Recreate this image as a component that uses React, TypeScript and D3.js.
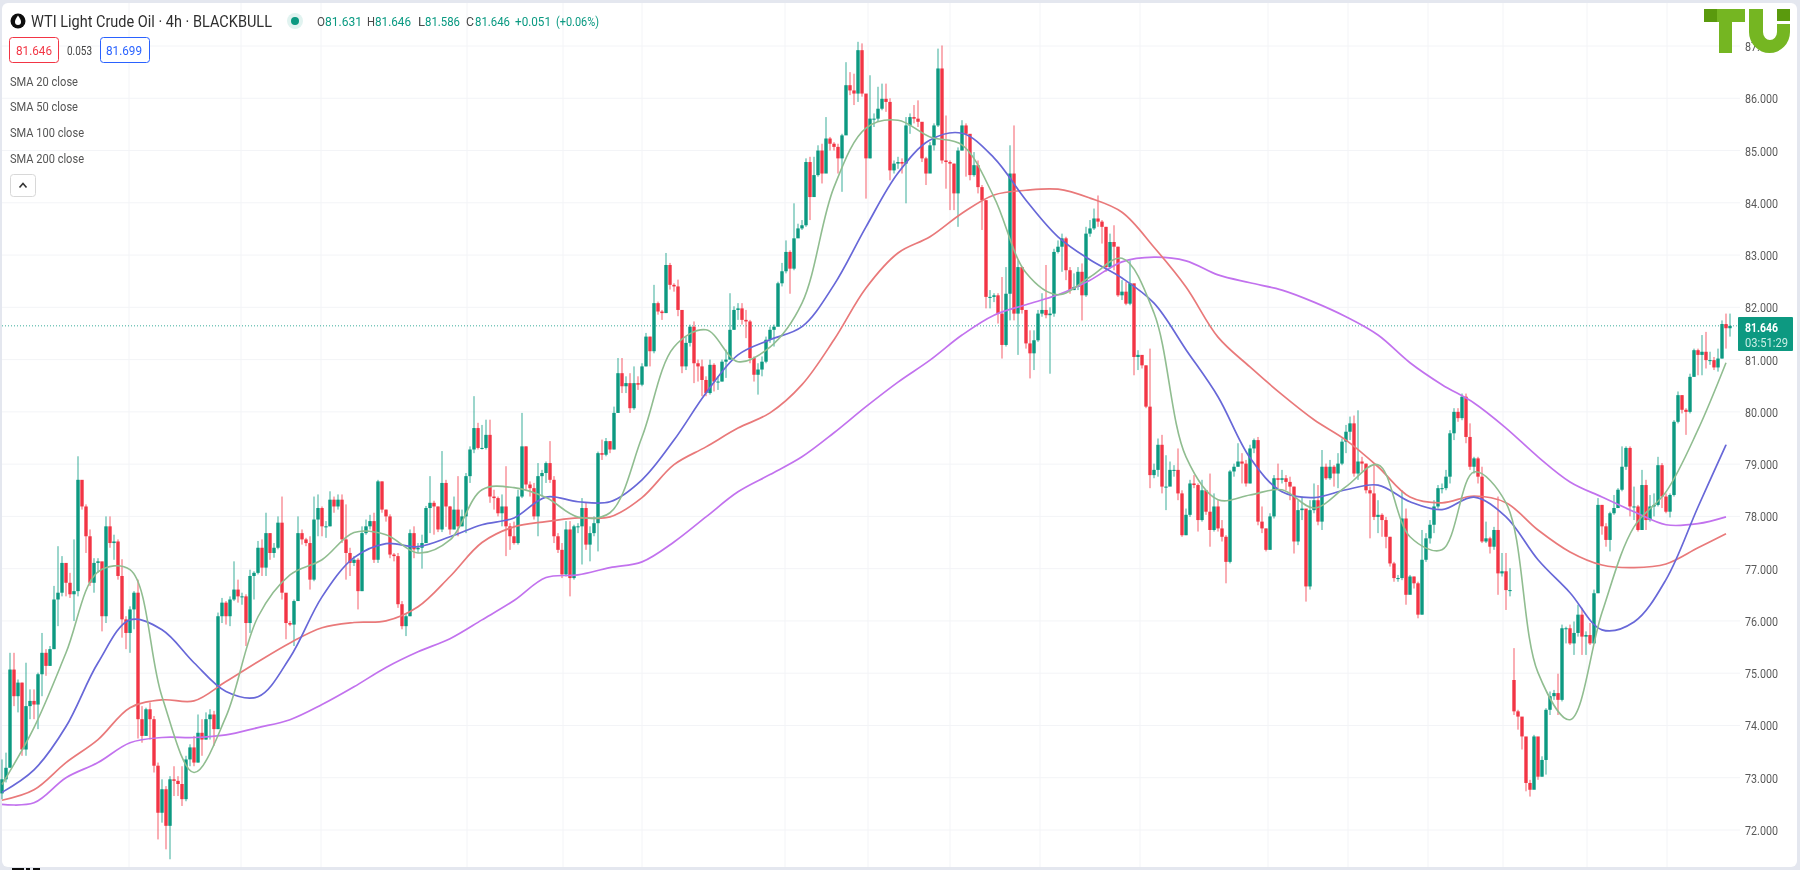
import React from 'react';
import * as d3 from 'd3';

const closes = [
  72.97,73.19,75.07,74.56,74.82,73.54,74.37,74.47,74.40,74.98,
  75.39,75.14,75.46,76.41,76.54,77.11,76.73,76.51,76.57,78.70,
  78.19,77.62,76.73,77.11,77.14,76.09,77.81,77.49,77.52,76.86,
  76.03,75.77,76.22,76.54,74.12,73.80,74.31,74.12,73.23,72.33,
  72.78,72.08,72.97,72.94,72.88,72.59,73.35,73.58,73.29,73.86,
  73.73,74.12,74.21,73.93,76.09,76.35,76.09,76.41,76.60,76.47,
  76.47,75.96,76.86,76.92,77.40,77.02,77.68,77.30,77.40,77.88,
  76.54,75.96,75.93,76.38,77.68,77.56,77.49,76.79,77.94,78.16,
  77.81,77.81,78.32,78.19,78.32,77.56,77.30,77.11,77.17,76.57,
  77.68,77.81,77.91,77.17,78.67,78.13,78.00,77.27,77.24,76.32,
  75.90,76.09,77.68,77.37,77.40,77.49,78.16,78.26,78.19,77.75,
  78.64,78.19,77.75,78.13,77.81,78.00,78.77,79.28,79.69,79.31,
  79.31,79.56,78.38,78.35,78.06,78.19,77.81,77.62,77.49,78.38,
  79.34,78.61,78.54,78.00,78.77,78.83,79.02,78.70,77.62,77.36,
  76.89,77.75,76.82,77.81,77.81,78.16,77.46,77.68,77.87,79.21,
  79.18,79.44,79.28,79.98,80.74,80.49,80.55,80.07,80.55,80.52,
  80.87,81.44,81.16,82.08,81.92,81.89,82.81,82.43,82.40,81.95,
  80.87,81.32,81.63,80.93,80.87,80.61,80.36,80.90,80.58,80.58,
  80.96,81.00,81.57,81.95,81.98,81.76,81.73,81.03,80.71,80.81,
  80.96,81.38,81.57,81.63,82.46,82.69,83.06,82.74,83.32,83.51,
  83.57,84.78,84.11,84.53,85.00,84.56,85.23,85.13,85.07,84.85,
  85.29,86.25,86.15,86.09,86.92,86.09,84.85,85.61,85.61,85.80,
  85.99,85.93,84.62,84.75,84.78,84.75,85.48,85.64,85.61,85.55,
  84.85,84.56,85.10,85.48,86.57,84.81,84.78,84.75,84.18,85.00,
  85.48,85.32,84.53,84.72,84.30,84.05,82.20,82.20,82.23,81.88,
  81.28,82.26,84.56,81.88,82.77,81.95,81.31,81.12,81.37,81.88,
  81.95,81.85,81.88,83.06,83.16,83.32,82.71,82.33,82.39,82.68,
  82.23,83.41,83.51,83.70,83.64,83.54,82.77,83.25,83.16,82.23,
  82.30,82.07,82.46,81.05,81.09,80.89,80.10,78.79,78.89,79.37,
  78.57,78.57,78.89,78.89,78.44,77.64,78.03,78.63,78.60,77.93,
  78.50,78.09,77.74,78.19,77.77,77.61,77.13,78.86,78.95,79.05,
  79.01,78.63,79.30,79.46,77.90,77.77,77.36,78.00,78.73,78.70,
  78.73,78.66,78.57,77.52,78.12,78.15,76.66,78.12,78.31,77.90,
  78.95,78.73,78.95,78.82,79.01,79.43,79.62,79.78,78.82,79.05,
  79.01,78.50,78.44,77.99,78.03,77.93,77.61,77.10,76.82,76.82,
  77.96,76.50,76.85,76.72,76.12,77.17,77.58,77.84,78.19,78.54,
  78.54,78.76,79.59,80.00,79.88,80.29,79.52,78.95,79.11,78.76,
  77.52,77.58,77.42,77.74,76.91,76.95,76.59,76.59,74.27,74.17,
  73.79,72.90,72.77,73.79,73.02,73.34,74.30,74.56,74.62,74.49,
  75.86,75.86,75.57,75.77,76.12,75.70,75.73,75.57,76.53,78.22,
  77.81,77.55,78.06,78.16,78.51,78.95,79.31,78.19,78.19,77.74,
  78.60,77.93,78.19,78.22,78.98,78.38,78.09,78.41,79.81,80.32,
  80.04,80.00,80.67,81.18,81.09,81.15,80.99,80.99,80.85,81.02,
  81.68,81.60,81.646,
];

const highs = [
  73.35,73.48,75.39,75.39,74.88,74.82,75.20,74.69,74.69,75.01,
  75.77,75.46,75.52,76.67,77.43,77.24,77.05,76.92,77.56,79.15,
  78.42,78.23,77.75,77.20,77.20,77.11,78.00,78.00,77.65,77.56,
  77.18,76.09,76.28,76.57,76.79,74.37,74.34,74.44,74.18,73.29,
  72.97,72.84,73.03,73.22,73.03,73.22,73.42,73.64,73.80,74.21,
  74.12,74.25,74.31,74.28,76.16,76.44,76.38,76.47,77.14,76.79,
  76.54,76.51,76.98,76.95,77.53,77.56,78.07,77.68,77.49,78.00,
  78.38,76.51,76.00,76.41,78.00,77.75,77.59,77.62,78.38,78.42,
  78.19,77.91,78.48,78.38,78.42,78.42,78.23,77.40,77.24,77.20,
  77.81,77.94,78.03,78.07,78.70,78.67,78.13,78.04,77.30,77.30,
  76.38,76.13,77.75,77.81,77.49,77.65,78.20,78.77,78.30,78.19,
  79.25,78.70,78.20,78.38,78.77,78.13,78.83,79.34,80.30,79.79,
  79.75,79.85,79.85,78.51,78.38,78.42,78.96,77.87,77.90,78.51,
  79.98,79.34,78.67,78.64,79.02,78.89,79.05,79.44,78.77,77.68,
  77.49,77.91,77.91,77.84,77.87,78.35,78.26,77.81,78.00,79.24,
  79.47,79.50,79.44,80.10,81.03,81.03,80.68,80.74,80.87,80.68,
  80.93,81.51,81.44,82.43,82.11,81.95,83.04,82.85,82.46,82.53,
  81.89,81.44,81.67,81.73,81.00,81.00,80.68,81.00,80.93,80.68,
  81.00,81.19,82.27,82.02,82.08,82.08,81.95,81.76,81.06,80.93,
  81.06,81.44,81.63,81.67,82.49,82.85,83.28,83.09,83.99,83.60,
  83.67,84.85,84.88,84.88,85.10,85.13,85.64,85.26,85.16,85.13,
  85.32,86.69,86.50,86.47,87.08,87.05,85.58,86.44,85.71,86.22,
  86.28,86.28,86.00,84.81,84.88,84.85,85.64,85.71,85.87,85.96,
  85.52,84.88,85.16,85.52,86.95,87.01,85.67,84.81,84.75,85.06,
  85.58,85.52,85.00,84.97,84.81,84.34,84.05,82.33,82.27,82.27,
  82.58,82.77,85.10,85.48,82.90,82.39,81.95,81.56,81.56,81.95,
  82.27,82.81,82.00,83.12,83.28,83.41,83.35,82.77,82.65,82.77,
  82.84,83.54,83.67,83.89,84.14,83.67,83.54,83.41,83.57,83.16,
  82.52,82.49,82.90,82.01,81.18,81.05,80.89,81.21,79.01,79.49,
  79.56,79.17,79.05,78.98,79.30,78.50,78.15,78.70,78.79,78.63,
  78.70,78.50,78.82,78.44,78.31,77.93,77.64,78.89,79.01,79.40,
  79.21,79.08,79.37,79.49,79.52,78.19,77.77,78.06,78.79,79.01,
  78.89,78.79,78.76,78.57,78.31,78.38,77.93,78.31,78.63,78.60,
  79.27,79.01,79.08,78.98,79.21,79.49,79.75,79.91,79.93,80.03,
  79.14,79.01,78.57,78.98,78.31,78.06,77.99,77.61,77.13,76.88,
  78.50,78.15,76.88,76.85,76.75,77.74,77.68,77.93,78.31,78.60,
  78.63,78.89,79.65,80.07,80.07,80.35,80.35,79.78,79.14,79.14,
  78.95,77.90,77.61,77.80,78.38,77.30,77.30,77.01,75.48,74.30,
  74.05,73.54,72.96,73.82,73.44,73.41,74.33,74.65,74.68,74.99,
  75.93,75.89,75.93,75.99,76.31,76.25,75.80,75.96,76.60,78.35,
  78.22,77.87,78.09,78.41,78.54,79.34,79.34,79.34,78.57,78.22,
  78.89,78.70,78.41,78.44,79.14,79.02,78.44,78.44,79.84,80.39,
  80.32,80.07,80.73,81.21,81.21,81.47,81.53,81.15,81.05,81.21,
  81.75,81.88,81.88,
];

const lows = [
  72.59,72.91,73.48,74.37,74.25,73.42,73.42,74.12,74.12,73.93,
  74.56,74.95,75.14,75.46,75.90,76.47,76.47,76.44,76.00,76.47,
  78.13,77.30,76.67,76.54,76.92,75.80,75.96,77.40,77.17,76.79,
  75.68,75.46,75.39,75.84,73.75,73.67,73.83,73.73,73.10,71.82,
  72.14,71.63,71.44,72.65,72.65,72.46,72.55,73.22,73.22,73.29,
  73.42,73.73,73.73,73.61,73.93,75.96,75.93,75.90,76.38,76.35,
  76.31,75.52,75.77,76.41,76.89,76.86,76.86,77.17,77.21,77.37,
  76.41,75.65,75.90,75.52,76.41,77.46,77.43,76.60,76.76,77.62,
  77.62,77.59,77.81,78.07,78.13,77.49,76.79,76.86,77.05,76.22,
  76.57,77.65,77.75,77.11,77.11,78.07,77.90,77.20,77.14,76.25,
  75.84,75.71,76.09,77.20,77.30,77.00,77.49,77.68,77.65,77.70,
  77.70,77.80,77.65,77.75,77.62,77.81,77.68,78.64,79.21,79.28,
  79.28,79.28,78.26,78.13,78.00,77.81,77.24,77.36,77.46,77.46,
  78.35,78.51,78.38,77.94,77.62,78.38,78.64,78.64,77.49,77.30,
  76.82,76.85,76.47,76.79,77.68,77.08,77.36,77.14,77.62,77.33,
  79.08,79.15,79.21,79.28,79.98,80.36,80.36,79.98,80.04,80.42,
  80.49,80.87,80.87,81.12,81.86,81.76,81.89,82.34,82.30,81.83,
  80.74,80.80,81.25,80.55,80.58,80.30,80.30,80.33,80.39,80.42,
  80.58,80.65,81.00,81.57,81.76,81.67,81.41,80.93,80.58,80.33,
  80.68,80.93,81.32,81.25,81.63,82.40,82.65,82.26,82.71,83.35,
  83.48,83.54,83.67,84.11,84.50,84.37,84.75,85.00,85.00,84.56,
  84.21,85.32,86.06,85.87,85.93,86.03,84.08,84.85,85.45,85.55,
  85.77,85.74,84.43,84.56,84.65,84.56,83.99,85.32,85.52,85.45,
  84.78,84.34,84.62,85.00,85.45,84.75,84.27,83.86,83.86,83.54,
  85.00,84.50,84.43,84.50,84.18,83.48,81.98,81.98,82.10,81.69,
  81.02,81.25,81.75,81.75,81.09,81.88,81.21,80.64,80.80,81.34,
  81.82,81.79,80.73,81.82,83.03,82.68,82.52,82.26,82.33,82.33,
  81.75,82.20,83.35,83.48,83.54,83.22,82.68,82.74,82.71,82.20,
  82.14,82.04,82.04,80.70,80.80,80.83,80.07,78.54,78.73,78.76,
  78.44,78.12,78.70,78.76,78.31,77.61,77.64,77.99,78.54,77.71,
  77.90,78.03,77.42,77.71,77.71,77.52,76.72,77.10,78.76,78.95,
  78.63,78.57,78.63,79.21,77.83,77.68,77.33,77.39,77.96,78.54,
  78.63,78.50,78.31,77.29,77.45,77.93,76.37,76.60,78.06,77.83,
  77.74,78.70,78.70,78.57,78.54,78.98,79.21,79.46,78.76,78.70,
  78.86,78.44,77.58,77.93,77.68,77.61,77.39,77.04,76.75,76.75,
  76.78,76.31,76.53,76.62,76.05,76.12,77.13,77.48,77.68,78.15,
  78.44,78.50,78.63,79.46,79.81,79.84,79.40,78.89,78.82,78.63,
  77.49,77.49,77.29,77.36,76.50,76.85,76.21,76.47,74.20,73.92,
  73.54,72.74,72.64,72.80,72.96,73.02,73.06,74.20,74.49,74.20,
  74.46,75.57,75.54,75.35,75.70,75.35,75.35,75.54,75.57,76.53,
  77.65,77.42,77.33,78.03,78.16,78.48,78.89,78.00,77.93,77.71,
  77.74,77.74,77.90,78.00,78.19,78.16,78.06,77.98,78.38,79.78,
  79.97,79.56,79.97,80.67,80.70,80.70,80.83,80.90,80.80,80.77,
  81.02,81.21,81.44,
];

// bars that open away from the previous close (weekend gaps)
const gapOpens: Record<number, number> = { 0: 72.7, 378: 74.87 };

// moving averages, one reading every 8 bars plus the last bar
const sma20 = [
  72.87,73.96,75.39,76.94,76.98,74.55,73.10,74.17,76.08,76.88,77.17,77.69,77.65,77.30,77.55,
  78.51,78.55,78.36,77.99,78.07,79.52,81.24,81.57,80.96,81.24,82.08,84.30,85.43,85.58,85.26,
  85.11,84.11,82.66,82.24,82.58,82.94,81.89,79.14,78.32,78.41,78.51,78.16,78.57,78.99,77.61,
  77.36,78.85,78.26,75.01,74.11,76.16,77.80,78.47,79.66,80.94,
];
const sma50 = [
  72.72,73.15,73.98,75.20,76.02,75.83,75.20,74.65,74.55,75.30,76.46,77.21,77.48,77.42,77.61,
  77.84,77.97,78.37,78.28,78.28,78.70,79.46,80.36,81.09,81.38,81.63,82.43,83.54,84.57,85.20,
  85.33,84.86,84.05,83.35,82.91,82.56,82.08,81.19,80.29,79.12,78.47,78.36,78.51,78.60,78.28,
  78.13,78.37,77.99,77.17,76.54,75.83,75.98,76.79,78.18,79.37,
];
const sma100 = [
  72.57,72.77,73.29,73.73,74.34,74.49,74.47,74.84,75.22,75.58,75.87,75.97,76.00,76.27,76.85,
  77.50,77.80,77.90,77.97,77.99,78.36,78.99,79.33,79.69,79.98,80.52,81.38,82.37,83.04,83.35,
  83.80,84.15,84.24,84.26,84.09,83.82,83.15,82.39,81.43,80.86,80.33,79.85,79.46,78.95,78.37,
  78.26,78.39,78.26,77.74,77.32,77.07,77.02,77.09,77.40,77.67,
];
const sma200 = [
  72.49,72.52,73.00,73.29,73.67,73.77,73.77,73.82,73.96,74.11,74.40,74.74,75.11,75.41,75.66,
  76.02,76.39,76.83,76.88,77.02,77.13,77.51,77.99,78.47,78.80,79.14,79.60,80.10,80.57,80.99,
  81.47,81.85,82.05,82.24,82.52,82.87,82.96,82.89,82.62,82.47,82.33,82.10,81.82,81.47,80.94,
  80.52,80.17,79.69,79.14,78.66,78.37,78.09,77.84,77.86,77.99,
];

const priceTicks = [87, 86, 85, 84, 83, 82, 81, 80, 79, 78, 77, 76, 75, 74, 73, 72];
const timeGrid = [129, 241, 321, 467, 563, 642, 785, 868, 950, 1040, 1140, 1268, 1348, 1428, 1503, 1587, 1667];
const smaLabels = ['SMA 20 close', 'SMA 50 close', 'SMA 100 close', 'SMA 200 close'];

const UP = '#089981';
const DOWN = '#f23645';
const LAST = 81.646;

const x = d3.scaleLinear().domain([0, closes.length - 1]).range([2, 1730]);
const y = d3.scaleLinear().domain([72, 87]).range([830, 46]);

const smaBar = (i: number, n: number) => (i === n - 1 ? 431 : i * 8);
const smaPath = (values: number[]) =>
  d3.line<number>()
    .x((_, i) => x(smaBar(i, values.length)))
    .y(d => y(d))
    .curve(d3.curveCatmullRom.alpha(0.5))(values) as string;

const FONT = 'Roboto, "Noto Sans", sans-serif';

const Label = ({ at, base, w, size = 13.5, fill = '#4a4a4a', weight, children }: any) => (
  <text x={at} y={base} textLength={w} lengthAdjust="spacingAndGlyphs" fontSize={size}
    fontFamily={FONT} fill={fill} fontWeight={weight}>{children}</text>
);

const App = () => {
  return (
    <svg width={1800} height={870} style={{ position: 'absolute', left: 0, top: 0, display: 'block' }}>
      <defs>
        {/* the reference is a soft, resampled screenshot */}
        <filter id="soft" x="0" y="0" width="100%" height="100%">
          <feGaussianBlur stdDeviation="0.45" />
        </filter>
      </defs>
      <g filter="url(#soft)">
        <rect width={1800} height={870} fill="#e4e7ef" />
        <rect x={2} y={3} width={1795} height={864} rx={6} fill="#ffffff" />

        {/* grid */}
        {priceTicks.map(t => (
          <line key={t} x1={2} x2={1740} y1={y(t)} y2={y(t)} stroke="#f3f4f7" />
        ))}
        {timeGrid.map(t => (
          <line key={t} x1={t} x2={t} y1={3} y2={867} stroke="#f3f4f7" />
        ))}

        {/* last price line */}
        <line x1={2} x2={1738} y1={y(LAST)} y2={y(LAST)} stroke={UP} strokeOpacity={0.8} strokeDasharray="1 2" />

        {/* candles */}
        {closes.map((c, i) => {
          const o = gapOpens[i] ?? closes[i - 1];
          const colour = c >= o ? UP : DOWN;
          const top = y(Math.max(o, c));
          const h = Math.max(1, y(Math.min(o, c)) - top);
          return (
            <g key={i}>
              <line x1={x(i)} x2={x(i)} y1={y(highs[i])} y2={y(lows[i])} stroke={colour} strokeOpacity={0.8} />
              <rect x={x(i) - 1.7} y={top} width={3.4} height={h} fill={colour} />
            </g>
          );
        })}

        {/* moving averages */}
        <path d={smaPath(sma200)} fill="none" stroke="#c272ee" strokeWidth={1.7} />
        <path d={smaPath(sma100)} fill="none" stroke="#e9797a" strokeWidth={1.7} />
        <path d={smaPath(sma50)} fill="none" stroke="#6767d8" strokeWidth={1.7} />
        <path d={smaPath(sma20)} fill="none" stroke="#90bd90" strokeWidth={1.6} />

        {/* price axis */}
        {priceTicks.map(t => (
          <Label key={t} at={1745} base={y(t) + 5} w={33} fill="#5a5a5a">{d3.format('.3f')(t)}</Label>
        ))}
        <rect x={1738} y={317} width={55} height={34} rx={1} fill={UP} />
        <Label at={1745} base={332} w={33} fill="#ffffff" weight={700}>81.646</Label>
        <Label at={1745} base={347} w={43} fill="#cdeee6">03:51:29</Label>

        {/* legend */}
        <circle cx={18} cy={21} r={7.5} fill="#0b0b0b" />
        <path d="M18 15.5 C20.5 19 21 20.5 21 22 A3 3 0 0 1 15 22 C15 20.5 15.5 19 18 15.5 Z" fill="#ffffff" />
        <Label at={31} base={27} w={241} size={17} fill="#2f2f2f">WTI Light Crude Oil · 4h · BLACKBULL</Label>
        <circle cx={295} cy={21} r={8} fill={UP} fillOpacity={0.12} />
        <circle cx={295} cy={21} r={4} fill={UP} />
        <Label at={317} base={26} w={8}>O</Label>
        <Label at={325} base={26} w={37} fill={UP}>81.631</Label>
        <Label at={367} base={26} w={8}>H</Label>
        <Label at={375} base={26} w={36} fill={UP}>81.646</Label>
        <Label at={418} base={26} w={7}>L</Label>
        <Label at={425} base={26} w={35} fill={UP}>81.586</Label>
        <Label at={466} base={26} w={8}>C</Label>
        <Label at={475} base={26} w={35} fill={UP}>81.646</Label>
        <Label at={515} base={26} w={36} fill={UP}>+0.051</Label>
        <Label at={556} base={26} w={43} fill={UP}>(+0.06%)</Label>

        <rect x={9.5} y={37.5} width={49} height={25} rx={3} fill="#fff" stroke={DOWN} />
        <Label at={16} base={55} w={36} fill={DOWN}>81.646</Label>
        <Label at={67} base={55} w={25} size={12.5} fill="#444">0.053</Label>
        <rect x={100.5} y={37.5} width={49} height={25} rx={3} fill="#fff" stroke="#2962ff" />
        <Label at={106} base={55} w={36} fill="#2962ff">81.699</Label>

        {smaLabels.map((s, i) => (
          <Label key={s} at={10} base={[86, 111, 137, 163][i]} w={i < 2 ? 68 : 74} fill="#555">{s}</Label>
        ))}

        <rect x={10.5} y={174.5} width={25} height={22} rx={3} fill="#fff" stroke="#d8d8d8" />
        <path d="M19.5 187.5 L23 183.5 L26.5 187.5" fill="none" stroke="#333" strokeWidth={1.6} />

        {/* watermark */}
        <g fill="#74b623">
          <rect x={1717} y={9} width={28} height={13} />
          <rect x={1719} y={9} width={13} height={44} />
          <path d="M1749 9 H1763 V32 A7 8 0 0 0 1777 32 V24 H1790 V32 A20.5 21 0 0 1 1749 32 Z" />
        </g>
        <rect x={1704} y={9} width={13} height={13} fill="#5a9a10" />
        <rect x={1777} y={9} width={13} height={12} fill="#5a9a10" />

        {/* top of the chart logo, cut by the bottom edge of the screenshot */}
        <g fill="#111">
          <rect x={12} y={868} width={12} height={2} />
          <rect x={26} y={868} width={4} height={2} />
          <rect x={33} y={868} width={7} height={2} />
        </g>
      </g>
    </svg>
  );
};

export default App;
